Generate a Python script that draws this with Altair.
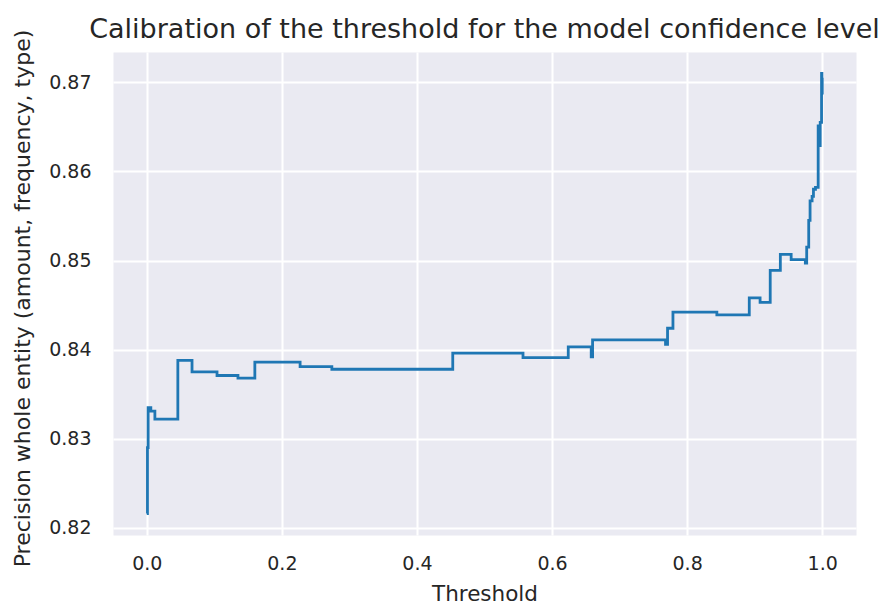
import altair as alt
import pandas as pd

# Step curve: precision of whole-entity matches as the confidence threshold rises
threshold = [
    0.000, 0.001, 0.002, 0.006, 0.012, 0.046, 0.067, 0.104, 0.135, 0.160,
    0.227, 0.274, 0.453, 0.557, 0.624, 0.658, 0.660, 0.768, 0.771, 0.779,
    0.844, 0.892, 0.908, 0.923, 0.938, 0.954, 0.975, 0.977, 0.980, 0.982,
    0.985, 0.987, 0.990, 0.994, 0.995, 0.997, 0.999, 0.9995, 1.000,
]
precision = [
    0.8216, 0.8290, 0.8335, 0.8331, 0.8322, 0.8388, 0.8375, 0.8371, 0.8368, 0.8386,
    0.8381, 0.8378, 0.8396, 0.8391, 0.8403, 0.8392, 0.8411, 0.8406, 0.8424, 0.8442,
    0.8439, 0.8458, 0.8453, 0.8489, 0.8507, 0.8501, 0.8497, 0.8515, 0.8545, 0.8567,
    0.8572, 0.8580, 0.8582, 0.8651, 0.8629, 0.8655, 0.8710, 0.8688, 0.8705,
]

x_ticks = [0.0, 0.2, 0.4, 0.6, 0.8, 1.0]
y_ticks = [0.82, 0.83, 0.84, 0.85, 0.86, 0.87]

df = pd.DataFrame({"threshold": threshold, "precision": precision})

FONT = "DejaVu Sans"
TEXT = "#262626"

line = alt.Chart(df).mark_line(
    color="#1f77b4", strokeWidth=2.8, interpolate="step-after"
).encode(
    x=alt.X(
        "threshold:Q",
        scale=alt.Scale(domain=[-0.05, 1.05], nice=False, zero=False),
        axis=alt.Axis(
            title="Threshold",
            values=x_ticks,
            format=".1f",
            labelBaseline="alphabetic",
            labelPadding=34,
            titleBaseline="alphabetic",
            titleFontSize=21.5,
            titleY=65,
        ),
    ),
    y=alt.Y(
        "precision:Q",
        scale=alt.Scale(domain=[0.8192, 0.8734], nice=False, zero=False),
        axis=alt.Axis(
            title="Precision whole entity (amount, frequency, type)",
            values=y_ticks,
            format=".2f",
            labelPadding=22,
            titleBaseline="middle",
            titleFontSize=22,
            titleX=-91,
            titleY=246,
        ),
    ),
)

chart = line.properties(
    width=743,
    height=483,
    title=alt.TitleParams(
        "Calibration of the threshold for the model confidence level",
        font=FONT,
        fontSize=27,
        fontWeight="normal",
        color=TEXT,
        anchor="middle",
        baseline="alphabetic",
        offset=12,
        dy=48,
    ),
    autosize=alt.AutoSizeParams(type="none"),
    padding={"left": 113, "top": 52, "right": 24, "bottom": 69},
    background="white",
).configure_view(
    fill="#EAEAF2", stroke="transparent"
).configure_axis(
    domain=False,
    ticks=False,
    tickSize=0,
    grid=True,
    gridColor="white",
    gridWidth=2,
    gridOpacity=1,
    labelFont=FONT,
    labelFontSize=19,
    labelColor=TEXT,
    labelFlush=False,
    labelOverlap=False,
    titleFont=FONT,
    titleFontWeight="normal",
    titleColor=TEXT,
)

chart.save("out.html", embed_options={"renderer": "svg", "actions": False})
